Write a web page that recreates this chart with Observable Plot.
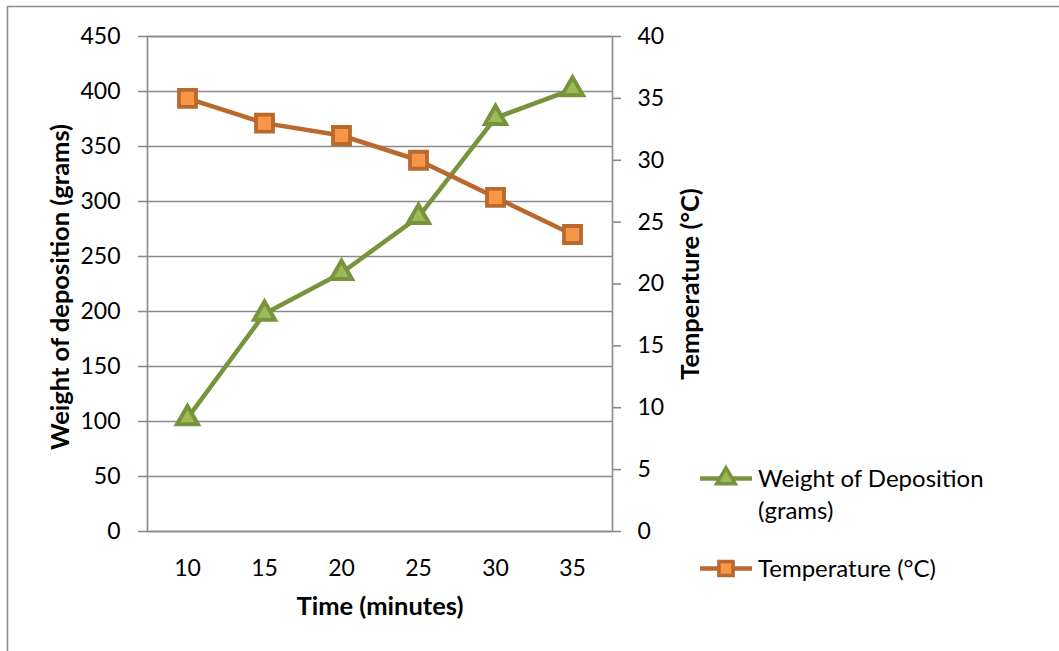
<!DOCTYPE html>
<html>
<head>
<meta charset="utf-8">
<script src="https://cdn.jsdelivr.net/npm/d3@7"></script>
<script src="https://cdn.jsdelivr.net/npm/@observablehq/plot@0.6"></script>
<style>
  html, body { margin: 0; padding: 0; background: #fff; }
  #chart { position: relative; width: 1059px; height: 651px; overflow: hidden; }
  #chart svg { font-family: Lato, "Open Sans", sans-serif; }
</style>
</head>
<body>
<div id="chart"></div>
<script>
// ---- data ----
const times = [10, 15, 20, 25, 30, 35];
const weight = [103, 198, 235, 286, 376, 402];
const temperature = [35, 33, 32, 30, 27, 24];
const weightTicks = [0, 50, 100, 150, 200, 250, 300, 350, 400, 450];
const tempTicks = [0, 5, 10, 15, 20, 25, 30, 35, 40];
const seriesNames = ["Weight of Deposition (grams)", "Temperature (°C)"];
const xTitle = "Time (minutes)";
const yTitleLeft = "Weight of deposition (grams)";
const yTitleRight = "Temperature (°C)";

// ---- styles ----
const greenLine = "#77933C", greenFill = "#9BBB59";
const orangeLine = "#B9692E", orangeFill = "#F79646";
const gridColor = "#8A8A8A";

const k = 450 / 40; // temperature -> weight scale factor
const rows = times.map((t, i) => ({time: t, weight: weight[i], temp: temperature[i], tempScaled: temperature[i] * k}));

const chart = Plot.plot({
  width: 1059,
  height: 651,
  marginLeft: 147,
  marginRight: 447,
  marginTop: 36,
  marginBottom: 120,
  style: {fontFamily: "Lato, 'Open Sans', sans-serif", fontSize: "23px", color: "#000", background: "#fff"},
  x: {type: "point", domain: times, padding: 0.5},
  y: {domain: [0, 450]},
  marks: [
    Plot.gridY(weightTicks, {stroke: gridColor, strokeOpacity: 1, strokeWidth: 1.6}),
    Plot.frame({stroke: gridColor, strokeWidth: 1.6}),
    Plot.axisY({ticks: weightTicks, tickSize: 9, tickPadding: 18, label: null, stroke: gridColor, strokeWidth: 1.6, fill: "#000", fontSize: 23}),
    Plot.axisY({anchor: "right", ticks: tempTicks.map(t => t * k), tickFormat: d => String(Math.round(d / k)), tickSize: 8, tickPadding: 17, label: null, stroke: gridColor, strokeWidth: 1.6, fill: "#000", fontSize: 23}),
    Plot.axisX({tickSize: 0, tickPadding: 28, label: null, fill: "#000", fontSize: 23}),
    Plot.line(rows, {x: "time", y: "weight", stroke: greenLine, strokeWidth: 4.5}),
    Plot.dot(rows, {x: "time", y: "weight", symbol: "triangle", r: 7.8, fill: greenFill, stroke: greenLine, strokeWidth: 4}),
    Plot.line(rows, {x: "time", y: "tempScaled", stroke: orangeLine, strokeWidth: 4.5}),
    Plot.dot(rows, {x: "time", y: "tempScaled", symbol: "square", r: 9.6, fill: orangeFill, stroke: orangeLine, strokeWidth: 3.8}),
    Plot.text([xTitle], {frameAnchor: "bottom", text: d => d, textAnchor: "middle", dy: 75, lineAnchor: "middle", fontWeight: "bold", fontSize: 25.5, fill: "#000"}),
    Plot.text([yTitleLeft], {frameAnchor: "left", text: d => d, textAnchor: "middle", rotate: -90, dx: -87, dy: 3, lineAnchor: "middle", fontWeight: "bold", fontSize: 25.5, fill: "#000"}),
    Plot.text([yTitleRight], {frameAnchor: "right", text: d => d, textAnchor: "middle", rotate: -90, dx: 78, dy: 0, lineAnchor: "middle", fontWeight: "bold", fontSize: 25.5, fill: "#000"})
  ]
});

document.getElementById("chart").appendChild(chart);

// ---- outer border (top & left visible) ----
const svg = d3.select(chart);
svg.append("path")
  .attr("d", "M7.5,700 L7.5,6.5 L1100,6.5")
  .attr("fill", "none").attr("stroke", "#8C8C8C").attr("stroke-width", 1.6);

// ---- legend ----
const legend = svg.append("g")
  .attr("font-family", "Lato, 'Open Sans', sans-serif")
  .attr("font-size", 24)
  .attr("text-anchor", "start");
const entries = [
  {lines: ["Weight of Deposition", "(grams)"], stroke: greenLine, fill: greenFill, symbol: d3.symbolTriangle, size: 150, y: 478.5},
  {lines: ["Temperature (°C)"], stroke: orangeLine, fill: orangeFill, symbol: d3.symbolSquare, size: 200, y: 568.5}
];
entries.forEach((e, i) => {
  const g = legend.append("g").attr("aria-label", seriesNames[i]);
  g.append("line").attr("x1", 700).attr("x2", 752).attr("y1", e.y).attr("y2", e.y)
    .attr("stroke", e.stroke).attr("stroke-width", 4.5);
  g.append("path").attr("d", d3.symbol(e.symbol, e.size)())
    .attr("transform", `translate(726,${e.y})`)
    .attr("fill", e.fill).attr("stroke", e.stroke).attr("stroke-width", 3.5);
  e.lines.forEach((t, j) => {
    g.append("text").attr("x", 758).attr("y", e.y + 8 + j * 32).attr("fill", "#000").attr("text-anchor", "start").text(t);
  });
});
</script>
</body>
</html>
